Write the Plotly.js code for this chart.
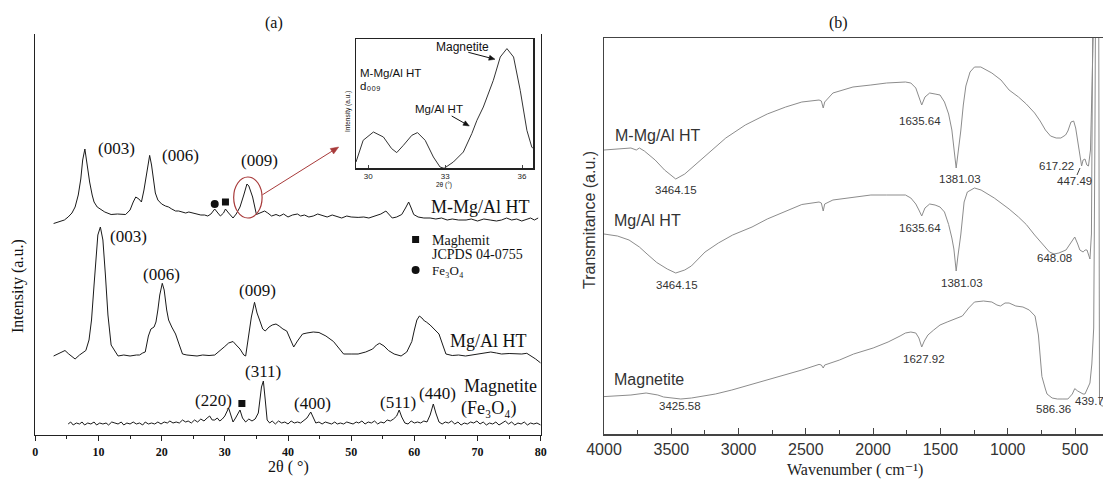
<!DOCTYPE html>
<html><head><meta charset="utf-8">
<script src="https://cdn.plot.ly/plotly-3.0.1.min.js"></script>
<style>html,body{margin:0;padding:0;background:#fff;}#chart{width:1103px;height:481px;}</style>
</head><body><div id="chart"></div>
<script>
// ---------- (a) XRD data: [2theta, intensity (a.u., stacked)] ----------
const xrd_MMgAlHT = [[2.9,211.5],[3.5,213],[4.0,214],[4.6,215],[5.2,218],[5.8,222],[6.3,228],[6.8,240],[7.2,256],[7.5,275],[7.85,286],[8.2,270],[8.6,253],[9.0,240],[9.3,233],[9.8,228],[10.3,226],[11.0,223],[12.0,220.5],[13.0,221],[14.3,220.5],[15.0,225],[15.5,233],[15.9,238],[16.4,236],[16.8,233],[17.2,245],[17.7,263],[18.1,279.6],[18.4,270],[18.7,256],[19.0,242],[19.4,235],[20.0,231],[20.6,229],[21.1,228],[21.6,226],[22.2,224],[22.7,224],[23.3,223],[23.8,222],[24.3,223],[25.0,222],[25.6,221],[26.2,220],[26.8,220],[27.3,219],[27.8,221],[28.4,226],[28.9,222],[29.3,219],[29.8,222],[30.1,226],[30.6,222],[31.0,219],[31.3,217],[31.8,221],[32.4,228],[33.0,240],[33.5,251],[33.8,249],[34.4,238],[35.0,220.5],[35.6,222],[36.3,224],[36.8,222],[37.4,219],[38.1,220.5],[38.7,219],[39.3,221],[40.0,218],[40.7,220],[41.5,221],[42.0,219],[42.6,220],[43.3,218],[44.0,219],[44.7,221],[45.5,219],[46.2,218],[47.0,220],[47.8,218],[48.5,217],[49.3,219],[50.0,218],[51.1,217.6],[52.0,218],[52.8,217],[53.9,219],[54.7,221],[55.5,224],[56.0,220],[56.5,217],[57.2,218],[58.0,220.5],[58.6,227],[59.1,233],[59.5,227],[59.9,220.5],[60.6,218],[61.5,217],[62.5,217],[63.4,216],[64.3,217],[65.2,215],[66.0,216],[67.0,215],[68.2,215],[69.0,216],[70.0,214],[71.0,216],[72.0,215],[73.0,214],[73.8,215],[74.6,217],[75.4,215],[76.2,216],[77.0,214],[77.8,216],[78.4,217],[79.0,215],[79.6,217]];
const xrd_MgAlHT = [[2.9,79],[3.6,81],[4.2,83],[4.7,84.5],[5.3,81],[5.8,78],[6.3,76],[7.0,80],[7.6,83],[8.0,84.5],[8.5,95],[8.9,115],[9.3,150],[9.6,180],[9.9,200],[10.3,208],[10.7,195],[11.1,160],[11.5,120],[12.0,90],[12.5,85],[13.1,79],[14.0,80],[15.0,79],[16.0,80],[16.5,80],[17.0,82],[17.4,83],[17.9,99],[18.3,106],[18.8,108],[19.1,113],[19.4,125],[19.7,140],[20.1,151.7],[20.4,145],[20.8,125],[21.1,115],[21.6,108],[22.2,101],[22.8,90],[23.3,81],[24.0,80],[25.0,79],[25.6,79],[26.5,80],[27.5,79.5],[28.4,80],[29.2,84],[29.9,88],[30.6,92],[31.3,93.5],[31.8,90],[32.4,86],[33.0,80],[33.3,79],[33.6,92],[33.8,101],[34.2,118],[34.7,132.7],[35.1,122],[35.5,115],[36.0,106],[36.4,104],[37.0,108],[37.5,110],[38.1,111],[38.6,109],[39.2,106],[39.8,104],[40.4,96],[40.9,88],[41.5,94],[42.3,101],[43.0,102],[44.0,103],[44.9,102.5],[46.0,99],[47.2,93.5],[48.0,87],[48.8,81],[50.0,81],[51.1,81],[52.3,83],[53.4,86],[54.0,90],[54.5,91.7],[55.2,89],[55.9,84.5],[56.8,81],[57.9,79],[58.8,83],[59.6,93.5],[60.0,105],[60.4,115],[60.8,119],[61.2,117],[61.6,114],[61.9,113],[62.5,110],[63.2,106],[63.9,101],[64.5,90],[65.0,81],[66.0,79.5],[67.0,80],[68.1,79],[69.0,80],[70.0,81],[71.0,82],[72.1,83],[73.0,82],[73.8,81],[75.0,81.5],[76.0,81],[77.0,81],[77.8,81.7],[78.5,79],[79.2,76],[80.0,72]];
const xrd_Magnetite = [[5.2,11],[5.6,13],[6.0,10],[6.5,12],[7.0,11],[7.4,13],[7.8,10],[8.3,12],[8.8,11],[9.3,13],[9.7,10],[10.2,12],[10.7,11],[11.2,12],[11.6,10],[12.1,13],[12.6,12],[13.1,11],[13.6,13],[14.0,10],[14.5,12],[15.0,11],[15.5,13],[16.0,11],[16.5,12],[17.0,10],[17.4,13],[17.9,11],[18.4,12],[18.9,11],[19.4,13],[19.9,11],[20.4,13],[20.9,12],[21.3,14],[21.8,12],[22.3,13],[22.8,12],[23.3,15],[23.8,13],[24.2,14],[24.7,12],[25.2,15],[25.7,13],[26.2,16],[26.7,14],[27.2,17],[27.6,19],[28.0,15],[28.4,15],[28.8,17],[29.2,14],[29.6,16],[30.0,19],[30.6,27],[31.0,19],[31.3,13],[31.7,17],[32.4,25],[32.8,17],[33.3,13],[33.8,16],[34.3,14],[34.8,16],[35.3,22],[35.8,48],[36.1,54],[36.4,35],[36.7,15],[37.1,12],[37.5,14],[38.0,11],[38.5,14],[39.0,12],[39.5,13],[40.0,11],[40.5,14],[41.0,12],[41.5,13],[42.0,12],[42.5,15],[43.0,17],[43.6,23],[44.0,17],[44.4,12],[44.9,13],[45.4,11],[45.9,13],[46.4,12],[46.9,11],[47.4,13],[47.8,11],[48.3,12],[48.8,11],[49.3,13],[49.8,12],[50.3,11],[50.8,13],[51.2,12],[51.7,14],[52.2,11],[52.7,13],[53.2,12],[53.7,14],[54.2,11],[54.7,13],[55.2,12],[55.7,15],[56.2,14],[56.7,16],[57.2,19],[57.6,25],[58.0,18],[58.5,12],[59.0,11],[59.5,14],[60.0,12],[60.5,13],[61.0,12],[61.5,14],[62.0,13],[62.5,20],[63.0,31],[63.4,22],[63.9,13],[64.4,11],[64.9,13],[65.4,12],[65.9,14],[66.4,11],[66.9,13],[67.4,10],[67.9,12],[68.4,11],[68.9,13],[69.4,12],[69.9,14],[70.4,11],[70.9,13],[71.4,10],[71.9,12],[72.4,11],[72.9,13],[73.4,10],[73.9,12],[74.4,14],[74.9,11],[75.4,13],[75.9,10],[76.4,12],[76.9,11],[77.4,13],[77.9,10],[78.4,12],[78.9,11],[79.4,12],[80.0,10]];
// inset: M-Mg/Al HT around d009
const inset_MMgAlHT = [[29.52,6.3],[29.8,28],[30.2,36.3],[30.59,31.3],[30.91,19.7],[31.11,15.7],[31.37,23],[31.7,33],[31.92,35.7],[32.22,28],[32.54,11.3],[32.8,1.3],[32.96,0],[33.32,6.3],[33.71,16.3],[34.04,34.7],[34.24,48],[34.49,61.3],[34.88,88],[35.15,111.3],[35.41,119.7],[35.67,111.3],[35.93,78],[36.19,38],[36.38,21.3],[36.44,19.7]];
// phase markers [2theta, intensity]
const maghemiteMarks = [[30.1,233],[32.7,31.5],[60.2,195.4]];
const fe3o4Marks = [[28.4,231],[60.2,165]];
const xrdTicks = [0,10,20,30,40,50,60,70,80];

// ---------- (b) FTIR data: [wavenumber, transmittance (a.u., stacked)] ----------
const ir_MMgAlHT = [[4000,284],[3900,285],[3800,286],[3760,284],[3737,286],[3700,283],[3620,274],[3550,264],[3467,255],[3400,260],[3300,272],[3200,284],[3095,296],[2950,309],[2787,320],[2650,327],[2530,332],[2402,334],[2385,333],[2371,326],[2360,332],[2299,341],[2150,347],[2017,349],[1900,351],[1760,352],[1720,351],[1683,346],[1660,338],[1639,329],[1615,337],[1580,341],[1540,340],[1503,339],[1470,332],[1439,320],[1415,304],[1400,289],[1390,274],[1383,266],[1370,279],[1349,303],[1330,329],[1311,348],[1280,362],[1247,367],[1200,367],[1118,361],[1050,354],[990,344],[920,337],[862,330],[800,321],[759,313],[720,304],[682,298],[640,296],[605,296],[570,299],[553,303],[530,312],[510,313],[495,306],[477,289],[460,274],[451,268],[440,274],[426,275],[412,269],[400,268],[385,284],[372,344],[362,414],[350,700]];
const ir_MgAlHT = [[4000,200],[3900,198],[3814,194],[3737,187],[3680,180],[3608,171.5],[3530,165],[3467,161],[3400,164],[3351,168],[3249,182],[3150,191],[3044,199],[2900,207],[2787,215],[2650,223],[2530,229.5],[2402,232],[2385,231],[2371,223],[2360,230],[2299,234],[2150,237],[2017,239],[1900,239],[1760,239],[1720,236],[1683,230],[1660,224],[1639,218],[1615,226],[1580,230],[1540,229],[1503,227],[1470,222],[1439,209.5],[1415,196],[1400,185],[1390,172],[1383,163],[1370,178],[1349,199],[1324,232],[1300,242],[1247,246],[1198,244],[1100,236],[990,225],[920,217],[862,209.5],[800,199],[733,189],[690,182],[656,180],[620,181],[567,184],[530,192],[502,197],[480,190],[464,184],[440,182],[425,184],[411,184],[400,180],[389,175],[378,200],[368,430],[355,700]];
const ir_Magnetite = [[4000,37.4],[3900,38],[3800,39],[3687,41],[3600,39],[3557,37],[3500,36],[3429,35],[3350,36],[3250,38],[3172,40],[3050,44],[2915,49],[2800,54],[2659,59],[2530,64],[2402,69.6],[2385,69],[2371,66],[2360,69],[2250,74],[2145,80],[2000,86],[1889,92],[1800,98],[1760,101],[1720,102],[1683,101],[1660,96],[1639,87],[1620,93],[1593,99],[1550,104],[1503,109],[1450,112],[1400,114.5],[1337,118],[1290,126],[1247,132],[1180,133],[1118,132],[1080,129],[1054,128],[1020,131],[990,131],[940,128],[887,127],[840,124],[797,118],[772,99],[746,57.5],[720,45],[708,40],[670,36],[631,35],[590,35],[553,35],[520,40],[502,45.4],[480,43],[464,42],[440,40],[426,40],[410,45],[389,51],[375,70],[361,106],[352,300],[345,500],[325,500],[318,30],[300,28],[292,28]];
const irTicks = [4000,3500,3000,2500,2000,1500,1000,500];

// ---------- helpers ----------
const W = 1103, H = 481;
const PX = v => v / W, PY = v => 1 - v / H;
const xs = a => a.map(p => p[0]), ys = a => a.map(p => p[1]);
const SERIF = 'Liberation Serif, DejaVu Serif, Times New Roman, serif';
const SANS = 'Liberation Sans, DejaVu Sans, Arial, sans-serif';

const line = (d, xa, ya, color) => ({x: xs(d), y: ys(d), xaxis: xa, yaxis: ya, mode: 'lines', type: 'scatter',
  line: {color: color, width: 1}, hoverinfo: 'skip', showlegend: false});

const traces = [
  line(xrd_MMgAlHT, 'x', 'y', '#1a1a1a'),
  line(xrd_MgAlHT, 'x', 'y', '#1a1a1a'),
  line(xrd_Magnetite, 'x', 'y', '#1a1a1a'),
  {x: xs(maghemiteMarks), y: ys(maghemiteMarks), xaxis: 'x', yaxis: 'y', mode: 'markers', type: 'scatter',
   marker: {symbol: 'square', size: 7, color: '#111'}, showlegend: false, hoverinfo: 'skip'},
  {x: xs(fe3o4Marks), y: ys(fe3o4Marks), xaxis: 'x', yaxis: 'y', mode: 'markers', type: 'scatter',
   marker: {symbol: 'circle', size: 8, color: '#111'}, showlegend: false, hoverinfo: 'skip'},
  line(inset_MMgAlHT, 'x3', 'y3', '#333'),
  line(ir_MMgAlHT, 'x2', 'y2', '#8c8c8c'),
  line(ir_MgAlHT, 'x2', 'y2', '#8c8c8c'),
  line(ir_Magnetite, 'x2', 'y2', '#8c8c8c'),
];

function lab(text, x, y, size, family, opt) {
  return Object.assign({text: text, x: PX(x), y: PY(y), xref: 'paper', yref: 'paper', showarrow: false,
    xanchor: 'center', yanchor: 'middle', font: {family: family, size: size, color: '#111'}}, opt || {});
}

const annotations = [
  lab('(a)', 274, 23, 16, SERIF),
  lab('(b)', 838, 23, 16, SERIF),
  lab('Intensity (a.u.)', 18, 286, 16, SERIF, {textangle: -90}),
  lab('2θ ( °)', 288, 467, 16, SERIF),
  // top XRD
  lab('(003)', 116, 148, 17, SERIF),
  lab('(006)', 180, 155, 17, SERIF),
  lab('(009)', 259, 161, 17, SERIF),
  lab('M-Mg/Al HT', 480, 207, 18, SERIF),
  lab('Maghemit', 430, 240, 14, SERIF, {xanchor: 'left'}),
  lab('JCPDS 04-0755', 430, 254, 14, SERIF, {xanchor: 'left'}),
  lab('Fe₃O₄', 430, 270, 13, SERIF, {xanchor: 'left'}),
  // middle XRD
  lab('(003)', 128, 236, 17, SERIF),
  lab('(006)', 161, 274, 17, SERIF),
  lab('(009)', 257, 290, 17, SERIF),
  lab('Mg/Al HT', 488, 341, 18, SERIF),
  // bottom XRD
  lab('(311)', 263, 371, 17, SERIF),
  lab('(220)', 213, 400, 17, SERIF),
  lab('(400)', 312, 403, 17, SERIF),
  lab('(511)', 398, 402, 17, SERIF),
  lab('(440)', 437, 393, 17, SERIF),
  lab('Magnetite', 500, 386, 18, SERIF),
  lab('(Fe₃O₄)', 489, 408, 18, SERIF),
  // inset texts
  lab('Magnetite', 462, 47, 12, SANS),
  lab('M-Mg/Al HT', 358, 73, 11.5, SANS, {xanchor: 'left'}),
  lab('d₀₀₉', 358, 86, 11.5, SANS, {xanchor: 'left'}),
  lab('Mg/Al HT', 439, 109, 11.5, SANS),
  lab('Intensity (a.u.)', 348, 112, 6.5, SANS, {textangle: -90}),
  lab('2θ (°)', 444, 185, 6.5, SANS),
  // (b) axis titles
  lab('Transmitance (a.u.)', 589, 220, 16, SANS, {textangle: -90, font: {family: SANS, size: 16, color: '#333'}}),
  lab('Wavenumber ( cm⁻¹)', 855, 470, 16, SERIF, {font: {family: SERIF, size: 16, color: '#222'}}),
];
const sansLab = (t, x, y, size, opt) => lab(t, x, y, size, SANS, Object.assign({font: {family: SANS, size: size, color: '#333'}}, opt || {}));
annotations.push(
  sansLab('M-Mg/Al HT', 613, 135, 16, {xanchor: 'left'}),
  sansLab('3464.15', 676, 190, 11.5),
  sansLab('1635.64', 920, 121, 11.5),
  sansLab('1381.03', 960, 179, 11.5),
  sansLab('617.22', 1056, 166, 11.5),
  sansLab('447.49', 1074, 181, 11.5),
  sansLab('Mg/Al HT', 612, 221, 16, {xanchor: 'left'}),
  sansLab('3464.15', 677, 285, 11.5),
  sansLab('1635.64', 920, 228, 11.5),
  sansLab('1381.03', 962, 283, 11.5),
  sansLab('648.08', 1054, 258, 11.5),
  sansLab('Magnetite', 612, 379, 16, {xanchor: 'left'}),
  sansLab('3425.58', 680, 406, 11.5),
  sansLab('1627.92', 924, 359, 11.5),
  sansLab('586.36', 1053, 409, 11.5),
  sansLab('439.7', 1073, 401, 11.5, {xanchor: 'left'})
);

// arrows drawn as shapes (line + filled head), given in pixel positions of the page
function arrow(x0, y0, x1, y1, color, len, half, width) {
  const dx = x1 - x0, dy = y1 - y0, n = Math.hypot(dx, dy), ux = dx / n, uy = dy / n;
  const bx = x1 - ux * len, by = y1 - uy * len;
  const p1 = [bx + uy * half, by - ux * half], p2 = [bx - uy * half, by + ux * half];
  return [
    {type: 'line', xref: 'paper', yref: 'paper', x0: PX(x0), y0: PY(y0), x1: PX(bx), y1: PY(by), line: {color: color, width: width}},
    {type: 'path', xref: 'paper', yref: 'paper', fillcolor: color, line: {color: color, width: 0.5},
     path: `M ${PX(x1)} ${PY(y1)} L ${PX(p1[0])} ${PY(p1[1])} L ${PX(p2[0])} ${PY(p2[1])} Z`}
  ];
}

const shapes = [
  {type: 'circle', xref: 'x', yref: 'y', x0: 31.4, x1: 35.9, y0: 217, y1: 258, line: {color: '#a83a3a', width: 1.2}},
  {type: 'line', xref: 'paper', yref: 'paper', x0: PX(1077), y0: PY(175), x1: PX(1080), y1: PY(168), line: {color: '#444', width: 1}},
  ...arrow(262.4, 194.8, 338.7, 147, '#a83a3a', 8, 3.2, 1),
  ...arrow(468.3, 52.3, 495, 59.3, '#111', 6, 2.5, 1),
  ...arrow(451.7, 116, 469.3, 126, '#111', 6, 2.5, 1),
];

const axA = {showgrid: false, zeroline: false, showline: true, linecolor: '#222', linewidth: 1.2};
const layout = {
  width: W, height: H, margin: {l: 0, r: 0, t: 0, b: 0}, paper_bgcolor: '#fff', plot_bgcolor: '#fff',
  showlegend: false,
  xaxis: Object.assign({}, axA, {domain: [35.3 / W, 540.7 / W], range: [0, 80], anchor: 'y',
    tickvals: xrdTicks, ticks: 'outside', ticklen: 5, tickcolor: '#222',
    minor: {dtick: 5, tick0: 0, ticks: 'outside', ticklen: 3, tickcolor: '#222'},
    tickfont: {family: SERIF, size: 12, color: '#111', weight: 'bold'}}),
  yaxis: Object.assign({}, axA, {domain: [1 - 435 / H, 1 - 34 / H], range: [0, 401], anchor: 'x',
    showticklabels: false, ticks: '', mirror: true}),
  xaxis2: {domain: [604 / W, 1], range: [4000, 292], anchor: 'y2', showgrid: false, zeroline: false,
    showline: true, mirror: true, linecolor: '#444', linewidth: 1.5,
    tickvals: irTicks, ticks: 'inside', ticklen: 6, tickcolor: '#444',
    minor: {dtick: 250, tick0: 0, ticks: 'inside', ticklen: 4, tickcolor: '#444'},
    tickfont: {family: SANS, size: 16, color: '#333'}},
  yaxis2: {domain: [1 - 434 / H, 1 - 38 / H], range: [0, 396], anchor: 'x2', showgrid: false, zeroline: false,
    showline: true, mirror: true, linecolor: '#444', linewidth: 1.5, showticklabels: false, ticks: ''},
  xaxis3: {domain: [356 / W, 533.3 / W], range: [29.52, 36.44], anchor: 'y3', showgrid: false, zeroline: false,
    showline: true, mirror: true, linecolor: '#222', linewidth: 1.2, tickvals: [30, 33, 36],
    ticks: 'inside', ticklen: 3, tickfont: {family: SANS, size: 8, color: '#222'}},
  yaxis3: {domain: [1 - 168.3 / H, 1 - 39 / H], range: [0, 129.3], anchor: 'x3', showgrid: false, zeroline: false,
    showline: true, mirror: true, linecolor: '#222', linewidth: 1.2, showticklabels: false, ticks: ''},
  annotations: annotations, shapes: shapes
};

Plotly.newPlot('chart', traces, layout, {staticPlot: true, displayModeBar: false});
</script></body></html>
